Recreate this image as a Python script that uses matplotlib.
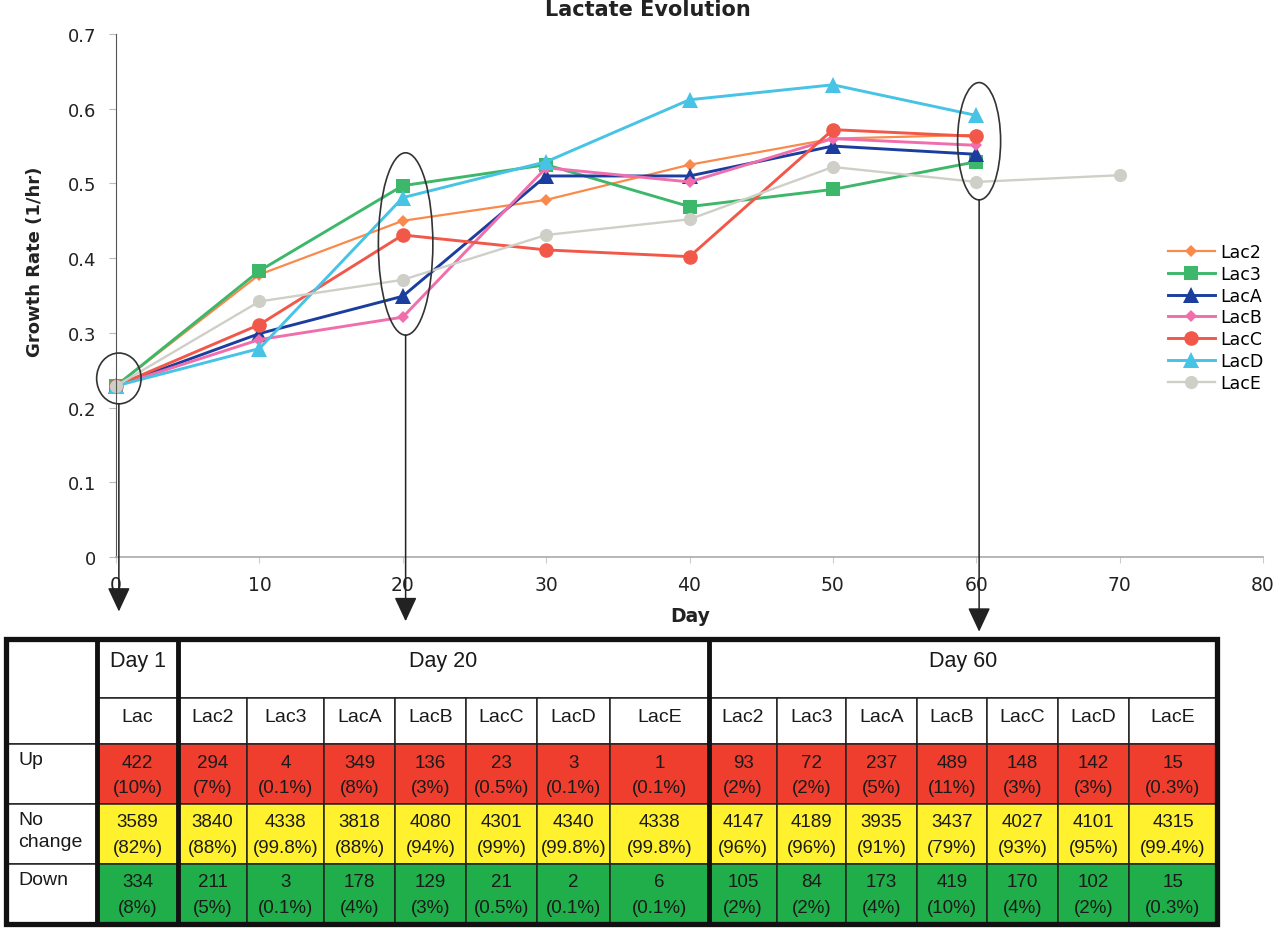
import matplotlib
matplotlib.use('Agg')
import matplotlib.pyplot as plt
from matplotlib.patches import Ellipse, Rectangle

# growth rate per strain (1/hr)
days = [0, 10, 20, 30, 40, 50, 60]
lac2 = [0.229, 0.378, 0.450, 0.478, 0.525, 0.560, 0.565]
lac3 = [0.229, 0.383, 0.497, 0.525, 0.469, 0.492, 0.529]
lacA = [0.229, 0.299, 0.349, 0.510, 0.510, 0.550, 0.539]
lacB = [0.229, 0.291, 0.321, 0.521, 0.502, 0.560, 0.551]
lacC = [0.229, 0.311, 0.431, 0.411, 0.402, 0.572, 0.563]
lacD = [0.229, 0.279, 0.481, 0.529, 0.612, 0.632, 0.591]
days_e = [0, 10, 20, 30, 40, 50, 60, 70]
lacE = [0.229, 0.342, 0.371, 0.431, 0.452, 0.522, 0.502, 0.511]

# days picked out for the table
marked_days = [0, 20, 60]

# table values
strains = ['Lac2', 'Lac3', 'LacA', 'LacB', 'LacC', 'LacD', 'LacE']
tab_cols = ['Lac'] + strains + strains
groups = ['Day 1', 'Day 20', 'Day 60']
group_span = [1, 7, 7]
row_names = ['Up', 'No\nchange', 'Down']
up_n = [422, 294, 4, 349, 136, 23, 3, 1, 93, 72, 237, 489, 148, 142, 15]
up_pct = ['10%', '7%', '0.1%', '8%', '3%', '0.5%', '0.1%', '0.1%',
          '2%', '2%', '5%', '11%', '3%', '3%', '0.3%']
nc_n = [3589, 3840, 4338, 3818, 4080, 4301, 4340, 4338,
        4147, 4189, 3935, 3437, 4027, 4101, 4315]
nc_pct = ['82%', '88%', '99.8%', '88%', '94%', '99%', '99.8%', '99.8%',
          '96%', '96%', '91%', '79%', '93%', '95%', '99.4%']
down_n = [334, 211, 3, 178, 129, 21, 2, 6, 105, 84, 173, 419, 170, 102, 15]
down_pct = ['8%', '5%', '0.1%', '4%', '3%', '0.5%', '0.1%', '0.1%',
            '2%', '2%', '4%', '10%', '4%', '2%', '0.3%']

W, H = 1280, 929
fig = plt.figure(figsize=(W / 100, H / 100), dpi=100)
plt.rcParams['font.family'] = ['DejaVu Sans']

ax = fig.add_axes([116 / W, 1 - 558 / H, (1263 - 116) / W, (558 - 35) / H])

series = [
    ('Lac2', days, lac2, '#F98A4B', 'D', 6.0, 1.6),
    ('Lac3', days, lac3, '#3DB76A', 's', 10.0, 2.1),
    ('LacA', days, lacA, '#1B3E9E', '^', 11.0, 2.1),
    ('LacB', days, lacB, '#F16EAC', 'D', 6.5, 2.1),
    ('LacC', days, lacC, '#F2584A', 'o', 10.5, 2.1),
    ('LacD', days, lacD, '#46C3E5', '^', 11.0, 2.1),
    ('LacE', days_e, lacE, '#CFCFC8', 'o', 9.5, 1.7),
]
for name, x, y, c, m, ms, lw in series:
    ax.plot(x, y, color=c, marker=m, markersize=ms, lw=lw, label=name,
            markeredgewidth=0, clip_on=False)

ax.set_xlim(0, 80)
ax.set_ylim(0, 0.7)
ax.set_xticks(range(0, 81, 10))
ax.set_yticks([0, 0.1, 0.2, 0.3, 0.4, 0.5, 0.6, 0.7])
ax.set_yticklabels(['0', '0.1', '0.2', '0.3', '0.4', '0.5', '0.6', '0.7'])
for s in ['top', 'right']:
    ax.spines[s].set_visible(False)
ax.spines['left'].set_color('#555555')
ax.spines['bottom'].set_color('#AAAAAA')
ax.spines['bottom'].set_linewidth(1.2)
ax.tick_params(axis='y', colors='#BBBBBB', labelcolor='#222222', length=5,
               pad=9, labelsize=13)
ax.tick_params(axis='x', colors='#CCCCCC', labelcolor='#222222', length=4,
               pad=9, labelsize=13.5)

ax.legend(loc='upper left', bbox_to_anchor=(1168 / W, 1 - 244 / H),
          bbox_transform=fig.transFigure, frameon=False, fontsize=12.5,
          handlelength=2.7, handletextpad=0.3, labelspacing=0.22,
          borderpad=0, borderaxespad=0)

fig.text(648 / W, 1 - 10 / H, 'Lactate Evolution', ha='center', va='center',
         fontsize=15, fontweight='bold', color='#222222')
fig.text(690 / W, 1 - 617 / H, 'Day', ha='center', va='center',
         fontsize=13.5, fontweight='bold', color='#222222')
fig.text(35 / W, 1 - 262 / H, 'Growth Rate (1/hr)', ha='center', va='center',
         rotation=90, fontsize=13, fontweight='bold', color='#222222')

# ellipses around the picked days, with arrows down to the table
arrow_tips = [-0.073, -0.086, -0.100]
ell_w = [3.1, 3.8, 3.0]
for d, tip, ew in zip(marked_days, arrow_tips, ell_w):
    vals = [y[x.index(d)] for _, x, y, *_ in series if d in x]
    lo, hi = min(vals), max(vals)
    cy = (lo + hi) / 2 + 0.01
    eh = hi - lo + 0.068
    ax.add_patch(Ellipse((d + 0.2, cy), ew, eh, fill=False, ec='#333333',
                         lw=1.2, clip_on=False, zorder=5))
    ax.annotate('', xy=(d + 0.2, tip), xytext=(d + 0.2, cy - eh / 2),
                arrowprops=dict(arrowstyle='-|>,head_length=0.75,head_width=0.35',
                                color='#222222', lw=1.1, mutation_scale=20,
                                shrinkA=0, shrinkB=0),
                annotation_clip=False, zorder=5)

# table, drawn in pixel units
tax = fig.add_axes([0, 0, 1, 1])
tax.set_xlim(0, W)
tax.set_ylim(H, 0)
tax.axis('off')
tax.patch.set_visible(False)

col_edges = [6, 97, 178, 247, 324, 395, 466, 537, 610, 709,
             777, 846, 917, 987, 1058, 1129, 1217]
row_edges = [640, 699, 745, 805, 865, 925]
fills = ['#EF3D2E', '#FFF12D', '#1FAE4A']
tfont = 'Liberation Sans'
txt = '#1A1A1A'
thin = dict(ec='#222222', lw=1.1)

# blank corner cell
tax.add_patch(Rectangle((col_edges[0], row_edges[0]), col_edges[1] - col_edges[0],
                        row_edges[2] - row_edges[0], fc='white', **thin))
# group header cells
c = 1
for g, span in zip(groups, group_span):
    x0, x1 = col_edges[c], col_edges[c + span]
    tax.add_patch(Rectangle((x0, row_edges[0]), x1 - x0, row_edges[1] - row_edges[0],
                            fc='white', **thin))
    tax.text((x0 + x1) / 2, row_edges[0] + 22, g, ha='center', va='center',
             fontsize=15.5, family=tfont, color=txt)
    c += span

# row label cells
for r, name in enumerate(row_names):
    y0, y1 = row_edges[2 + r], row_edges[3 + r]
    tax.add_patch(Rectangle((col_edges[0], y0), col_edges[1] - col_edges[0], y1 - y0,
                            fc='white', **thin))
    tax.text(col_edges[0] + 12, y0 + 7, name, ha='left', va='top',
             fontsize=14, family=tfont, color=txt, linespacing=1.35)

rows = [(up_n, up_pct), (nc_n, nc_pct), (down_n, down_pct)]
for j, col in enumerate(tab_cols):
    x0, x1 = col_edges[j + 1], col_edges[j + 2]
    xc = (x0 + x1) / 2
    tax.add_patch(Rectangle((x0, row_edges[1]), x1 - x0, row_edges[2] - row_edges[1],
                            fc='white', **thin))
    tax.text(xc, row_edges[1] + 19, col, ha='center', va='center',
             fontsize=14, family=tfont, color=txt)
    for r, (nums, pcts) in enumerate(rows):
        y0, y1 = row_edges[2 + r], row_edges[3 + r]
        tax.add_patch(Rectangle((x0, y0), x1 - x0, y1 - y0, fc=fills[r], **thin))
        tax.text(xc, y0 + 18, str(nums[j]), ha='center', va='center',
                 fontsize=13.5, family=tfont, color=txt)
        tax.text(xc, y0 + 44, '(' + pcts[j] + ')', ha='center', va='center',
                 fontsize=13.5, family=tfont, color=txt)

# heavy borders
tax.add_patch(Rectangle((col_edges[0], row_edges[0]), col_edges[-1] - col_edges[0],
                        row_edges[-1] - row_edges[0], fill=False, ec='#111111', lw=3.8))
for xe in [col_edges[1], col_edges[2], col_edges[9]]:
    tax.plot([xe, xe], [row_edges[0], row_edges[-1]], color='#111111', lw=3.5,
             solid_capstyle='butt')

fig.savefig('out.png', dpi=100)
